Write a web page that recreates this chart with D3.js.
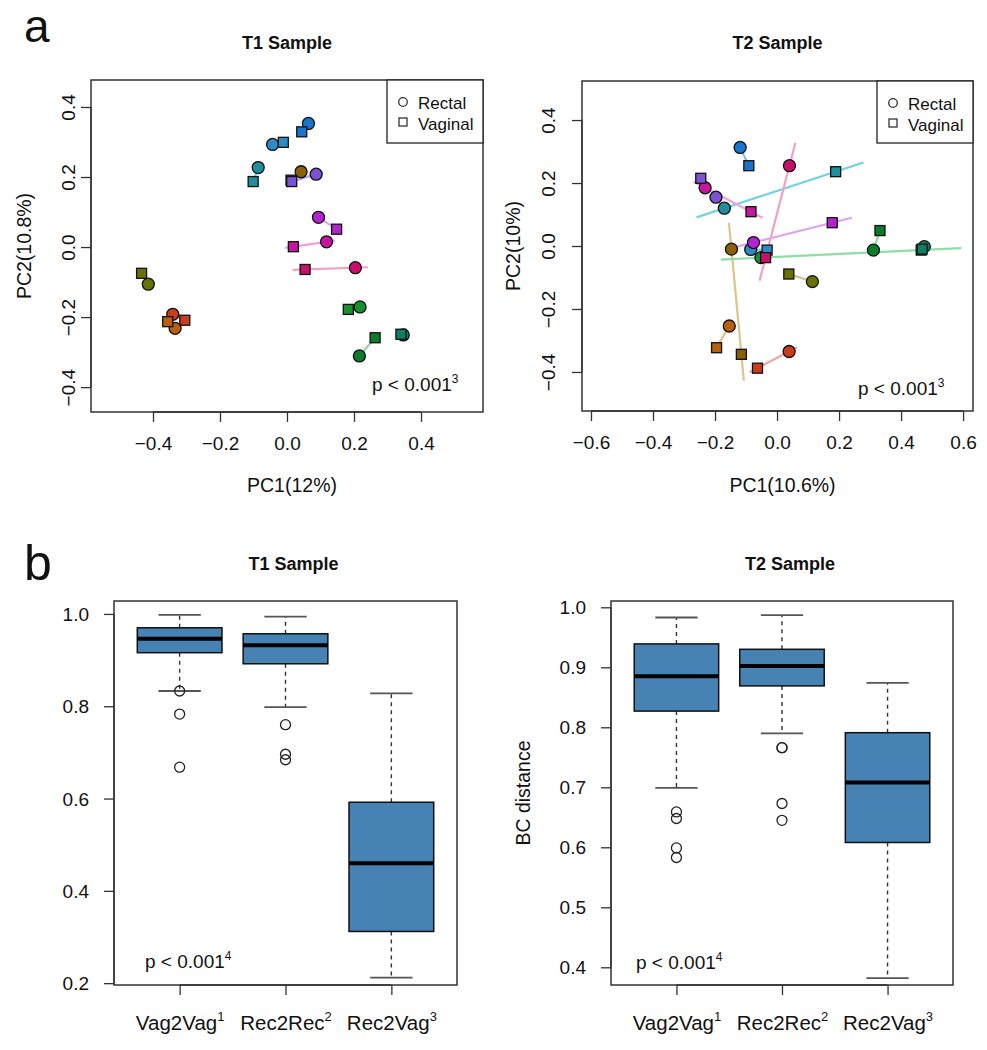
<!DOCTYPE html>
<html><head><meta charset="utf-8">
<script src="https://cdn.jsdelivr.net/npm/d3@7"></script>
<style>body{margin:0;background:#fff}svg{display:block}</style>
</head><body><svg id="c" width="987" height="1050"></svg>
<script>
// ---------------- DATA ----------------
const subjects = ["S1","S2","S3","S4","S5","S6","S7","S8","S9","S10","S11","S12","S13","S14"];
const pointColors = ["#1874CD","#2B8CC4","#1F8F9E","#8B5E0A","#7B52D6","#B324D0","#C6189E","#C8106B","#15922E","#0B7B2C","#0E7F66","#6B7205","#C93C1E","#B8600E"];
const lineColors  = ["#8CB8EC","#8CC4E6","#6FD3E0","#DCC48C","#B8A4EE","#DDA4F0","#F0A0D8","#F4A0C4","#8EDCA6","#98D6A0","#8CD6C4","#C4CC88","#F2A898","#EDBC8C"];

// T1 PCoA
const t1RectalX  = [0.064,-0.043,-0.086,0.042,0.087,0.094,0.118,0.204,0.218,0.216,0.347,-0.414,-0.341,-0.334];
const t1RectalY  = [0.353,0.293,0.227,0.215,0.208,0.085,0.015,-0.059,-0.171,-0.311,-0.251,-0.106,-0.192,-0.232];
const t1VaginalX = [0.044,-0.011,-0.101,0.012,0.014,0.148,0.019,0.054,0.183,0.263,0.340,-0.434,-0.305,-0.356];
const t1VaginalY = [0.329,0.299,0.187,0.191,0.187,0.051,0.001,-0.064,-0.178,-0.259,-0.249,-0.075,-0.209,-0.213];
// T2 PCoA
const t2RectalX  = [-0.119,-0.085,-0.170,-0.147,-0.197,-0.076,-0.232,0.040,-0.052,0.311,0.475,0.114,0.039,-0.154];
const t2RectalY  = [0.313,-0.011,0.120,-0.010,0.155,0.011,0.185,0.255,-0.037,-0.013,-0.002,-0.113,-0.335,-0.254];
const t2VaginalX = [-0.091,-0.032,0.189,-0.115,-0.246,0.178,-0.084,-0.037,0.465,0.332,0.468,0.038,-0.063,-0.195];
const t2VaginalY = [0.255,-0.013,0.236,-0.344,0.215,0.074,0.109,-0.037,-0.013,0.049,-0.010,-0.089,-0.388,-0.323];

const t1XTicks = [-0.4,-0.2,0,0.2,0.4];
const t1YTicks = [-0.4,-0.2,0,0.2,0.4];
const t2XTicks = [-0.6,-0.4,-0.2,0,0.2,0.4,0.6];
const t2YTicks = [-0.4,-0.2,0,0.2,0.4];

// Boxplots
const boxGroups = ["Vag2Vag","Rec2Rec","Rec2Vag"];
const boxSups = ["1","2","3"];
const t1Low  = [0.833,0.798,0.212];
const t1Q1   = [0.916,0.892,0.312];
const t1Med  = [0.946,0.932,0.460];
const t1Q3   = [0.970,0.957,0.592];
const t1High = [0.998,0.994,0.828];
const t1Out  = [[0.833,0.783,0.668],[0.760,0.696,0.684],[]];
const t2Low  = [0.699,0.790,0.382];
const t2Q1   = [0.827,0.869,0.608];
const t2Med  = [0.885,0.902,0.708];
const t2Q3   = [0.939,0.930,0.791];
const t2High = [0.983,0.987,0.874];
const t2Out  = [[0.659,0.648,0.599,0.583],[0.766,0.766,0.673,0.645],[]];
const b1YTicks = [0.2,0.4,0.6,0.8,1.0];
const b2YTicks = [0.4,0.5,0.6,0.7,0.8,0.9,1.0];

// ---------------- DRAWING ----------------
const svg = d3.select("#c");
const FONT = "'Liberation Sans', Arial, Helvetica, sans-serif";
const EXT = 0.25;
const fmt = d3.format(".1f");

function styleAxis(ax, vals, scale, horizontal) {
  ax.attr("font-family", FONT).attr("font-size", 19);
  ax.select(".domain").remove();
  ax.selectAll(".tick line").attr("stroke", "#333").attr("stroke-width", 1.3);
  ax.selectAll(".tick text").attr("fill", "#111");
  const a = scale(d3.min(vals)), b = scale(d3.max(vals));
  const l = ax.append("line").attr("stroke", "#333").attr("stroke-width", 1.3);
  if (horizontal) l.attr("x1", a).attr("x2", b).attr("y1", 0).attr("y2", 0);
  else l.attr("y1", a).attr("y2", b).attr("x1", 0).attr("x2", 0);
}

function text(x, y, s, opts = {}) {
  const t = svg.append("text").attr("x", x).attr("y", y).text(s)
    .attr("font-family", FONT).attr("font-size", opts.size || 19)
    .attr("fill", "#111").attr("text-anchor", opts.anchor || "middle");
  if (opts.bold) t.attr("font-weight", "bold");
  if (opts.rotate) t.attr("transform", `rotate(-90,${x},${y})`);
  return t;
}
function pText(x, y, sup) {
  const t = text(x, y, "p < 0.001", { anchor: "start" });
  t.append("tspan").attr("font-size", 12).attr("dy", -8).text(sup);
}

function drawPcoa(o) {
  const x = d3.scaleLinear().domain(o.xDomain).range([o.left, o.right]);
  const y = d3.scaleLinear().domain(o.yDomain).range([o.bottom, o.top]);
  const g = svg.append("g");
  const idx = d3.range(subjects.length);
  g.selectAll("line.pair").data(idx).join("line").attr("class", "pair")
    .attr("x1", i => x(o.rx[i] - EXT * (o.vx[i] - o.rx[i])))
    .attr("y1", i => y(o.ry[i] - EXT * (o.vy[i] - o.ry[i])))
    .attr("x2", i => x(o.vx[i] + EXT * (o.vx[i] - o.rx[i])))
    .attr("y2", i => y(o.vy[i] + EXT * (o.vy[i] - o.ry[i])))
    .attr("stroke", i => lineColors[i]).attr("stroke-width", 2.2);
  g.selectAll("circle.rec").data(idx).join("circle").attr("class", "rec")
    .attr("cx", i => x(o.rx[i])).attr("cy", i => y(o.ry[i])).attr("r", 6)
    .attr("fill", i => pointColors[i]).attr("stroke", "#111").attr("stroke-width", 1.3);
  const s = 10;
  g.selectAll("rect.vag").data(idx).join("rect").attr("class", "vag")
    .attr("x", i => x(o.vx[i]) - s / 2).attr("y", i => y(o.vy[i]) - s / 2)
    .attr("width", s).attr("height", s)
    .attr("fill", i => pointColors[i]).attr("stroke", "#111").attr("stroke-width", 1.3);
  g.append("rect").attr("x", o.left).attr("y", o.top)
    .attr("width", o.right - o.left).attr("height", o.bottom - o.top)
    .attr("fill", "none").attr("stroke", "#333").attr("stroke-width", 1.5);
  const xa = g.append("g").attr("transform", `translate(0,${o.bottom})`)
    .call(d3.axisBottom(x).tickValues(o.xTicks).tickSize(10).tickFormat(fmt));
  styleAxis(xa, o.xTicks, x, true);
  xa.selectAll(".tick text").attr("y", 38).attr("dy", null);
  const ya = g.append("g").attr("transform", `translate(${o.left},0)`)
    .call(d3.axisLeft(y).tickValues(o.yTicks).tickSize(10).tickFormat(fmt));
  styleAxis(ya, o.yTicks, y, false);
  ya.selectAll(".tick text").attr("x", 0).attr("y", -o.yLabOff).attr("dy", null)
    .attr("text-anchor", "middle").attr("transform", "rotate(-90)");
  // legend
  const L = o.legend;
  g.append("rect").attr("x", L.x).attr("y", L.y).attr("width", L.w).attr("height", L.h)
    .attr("fill", "#fff").attr("stroke", "#222").attr("stroke-width", 1.3);
  g.append("circle").attr("cx", L.x + 16).attr("cy", L.y + 22).attr("r", 4.3)
    .attr("fill", "none").attr("stroke", "#333").attr("stroke-width", 1.3);
  g.append("rect").attr("x", L.x + 12).attr("y", L.y + 38).attr("width", 8).attr("height", 8)
    .attr("fill", "none").attr("stroke", "#333").attr("stroke-width", 1.3);
  text(L.x + 31, L.y + 29, "Rectal", { anchor: "start", size: 17 });
  text(L.x + 31, L.y + 50, "Vaginal", { anchor: "start", size: 17 });
  text((o.left + o.right) / 2, 49, o.title, { bold: true, size: 18 });
  text((o.left + o.right) / 2 + 5, 492, o.xLab, { size: 19.5 });
  text(o.yTitleX, (o.top + o.bottom) / 2, o.yLab, { size: 19.5, rotate: true });
  pText(o.pX, o.pY, "3");
}

function drawBox(o) {
  const x = d3.scaleLinear().domain([0.38, 3.62]).range([o.left, o.right]);
  const y = d3.scaleLinear().domain(o.yDomain).range([o.bottom, o.top]);
  const g = svg.append("g");
  const idx = d3.range(boxGroups.length);
  const half = x(1.4) - x(1);
  g.selectAll("line.wu").data(idx).join("line")
    .attr("x1", i => x(i + 1)).attr("x2", i => x(i + 1))
    .attr("y1", i => y(o.q3[i])).attr("y2", i => y(o.high[i]))
    .attr("stroke", "#333").attr("stroke-width", 1.4).attr("stroke-dasharray", "4,4");
  g.selectAll("line.wl").data(idx).join("line")
    .attr("x1", i => x(i + 1)).attr("x2", i => x(i + 1))
    .attr("y1", i => y(o.q1[i])).attr("y2", i => y(o.low[i]))
    .attr("stroke", "#333").attr("stroke-width", 1.4).attr("stroke-dasharray", "4,4");
  ["high", "low"].forEach(k => {
    g.selectAll("line.c" + k).data(idx).join("line")
      .attr("x1", i => x(i + 1) - half / 2).attr("x2", i => x(i + 1) + half / 2)
      .attr("y1", i => y(o[k][i])).attr("y2", i => y(o[k][i]))
      .attr("stroke", "#555").attr("stroke-width", 1.8);
  });
  g.selectAll("rect.box").data(idx).join("rect")
    .attr("x", i => x(i + 1) - half).attr("width", 2 * half)
    .attr("y", i => y(o.q3[i])).attr("height", i => y(o.q1[i]) - y(o.q3[i]))
    .attr("fill", "#4682B4").attr("stroke", "#111").attr("stroke-width", 1.5);
  g.selectAll("line.med").data(idx).join("line")
    .attr("x1", i => x(i + 1) - half).attr("x2", i => x(i + 1) + half)
    .attr("y1", i => y(o.med[i])).attr("y2", i => y(o.med[i]))
    .attr("stroke", "#000").attr("stroke-width", 4);
  const outs = idx.flatMap(i => o.out[i].map(v => ({ i, v })));
  g.selectAll("circle.out").data(outs).join("circle")
    .attr("cx", d => x(d.i + 1)).attr("cy", d => y(d.v)).attr("r", 5)
    .attr("fill", "none").attr("stroke", "#222").attr("stroke-width", 1.3);
  g.append("rect").attr("x", o.left).attr("y", o.top)
    .attr("width", o.right - o.left).attr("height", o.bottom - o.top)
    .attr("fill", "none").attr("stroke", "#333").attr("stroke-width", 1.5);
  const xa = g.append("g").attr("transform", `translate(0,${o.bottom})`)
    .call(d3.axisBottom(x).tickValues([1, 2, 3]).tickSize(10));
  styleAxis(xa, [1, 3], x, true);
  xa.selectAll(".tick text").attr("y", 45).attr("dy", null).attr("font-size", 20.5).text(null)
    .each(function (d) {
      const t = d3.select(this);
      t.append("tspan").text(boxGroups[d - 1]);
      t.append("tspan").attr("font-size", 13).attr("dy", -9).text(boxSups[d - 1]);
    });
  const ya = g.append("g").attr("transform", `translate(${o.left},0)`)
    .call(d3.axisLeft(y).tickValues(o.yTicks).tickSize(10).tickFormat(fmt));
  styleAxis(ya, o.yTicks, y, false);
  ya.selectAll(".tick text").attr("x", -25).attr("dy", "0.35em");
  text((o.left + o.right) / 2 + 8, 570, o.title, { bold: true, size: 18 });
  if (o.yLab) text(o.yTitleX, (o.top + o.bottom) / 2, o.yLab, { size: 19.5, rotate: true });
  pText(o.pX, o.pY, "4");
}

// panel letters
text(24, 42, "a", { anchor: "start", size: 46 });
text(24, 580, "b", { anchor: "start", size: 50 });

drawPcoa({
  left: 91, right: 483, top: 80, bottom: 412,
  xDomain: [-0.585, 0.585], yDomain: [-0.471, 0.477],
  xTicks: t1XTicks, yTicks: t1YTicks,
  rx: t1RectalX, ry: t1RectalY, vx: t1VaginalX, vy: t1VaginalY,
  yLabOff: 16, yTitleX: 31,
  legend: { x: 387, y: 80, w: 96, h: 63 },
  title: "T1 Sample", xLab: "PC1(12%)", yLab: "PC2(10.8%)",
  pX: 372, pY: 391
});
drawPcoa({
  left: 582, right: 973, top: 81, bottom: 411,
  xDomain: [-0.629, 0.632], yDomain: [-0.524, 0.524],
  xTicks: t2XTicks, yTicks: t2YTicks,
  rx: t2RectalX, ry: t2RectalY, vx: t2VaginalX, vy: t2VaginalY,
  yLabOff: 27, yTitleX: 520,
  legend: { x: 877, y: 81, w: 96, h: 62 },
  title: "T2 Sample", xLab: "PC1(10.6%)", yLab: "PC2(10%)",
  pX: 858, pY: 395
});
drawBox({
  left: 114, right: 457, top: 601, bottom: 985,
  yDomain: [0.196, 1.028], yTicks: b1YTicks,
  low: t1Low, q1: t1Q1, med: t1Med, q3: t1Q3, high: t1High, out: t1Out,
  title: "T1 Sample", pX: 145, pY: 968
});
drawBox({
  left: 611, right: 953, top: 601, bottom: 985,
  yDomain: [0.3705, 1.0105], yTicks: b2YTicks,
  low: t2Low, q1: t2Q1, med: t2Med, q3: t2Q3, high: t2High, out: t2Out,
  title: "T2 Sample", yLab: "BC distance", yTitleX: 530, pX: 636, pY: 969
});
</script></body></html>
